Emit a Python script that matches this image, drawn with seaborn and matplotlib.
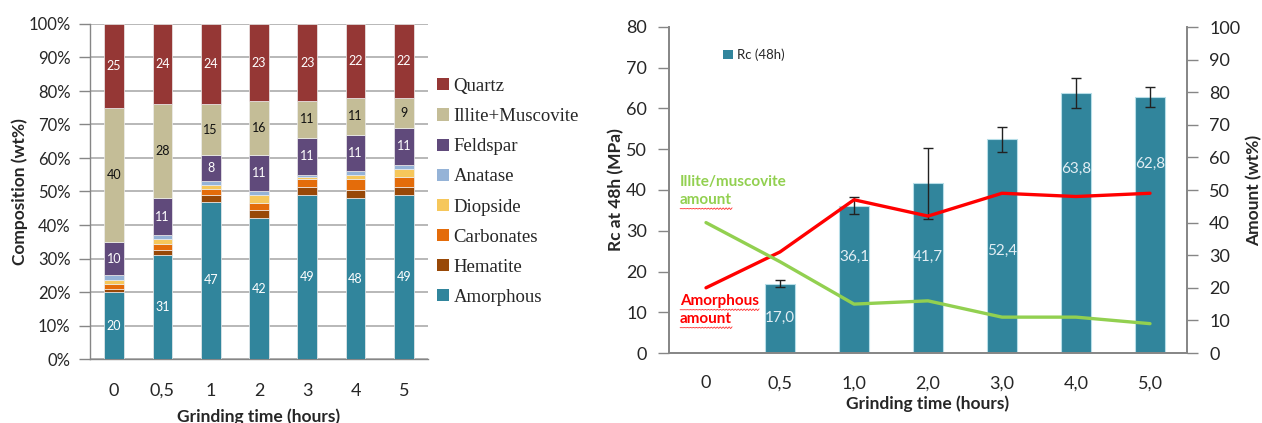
import numpy as np
import pandas as pd
import matplotlib
matplotlib.use("Agg")
import matplotlib.pyplot as plt
from matplotlib.patches import Patch
import seaborn as sns

# ---- data -------------------------------------------------------------
TIMES = ["0", "0,5", "1", "2", "3", "4", "5"]
TIMES_R = ["0", "0,5", "1,0", "2,0", "3,0", "4,0", "5,0"]

AMORPHOUS = [20, 31, 47, 42, 49, 48, 49]
HEMATITE = [1.0, 1.4, 2.0, 2.4, 2.4, 2.3, 2.3]
CARBONATES = [1.5, 1.9, 1.8, 2.3, 2.3, 3.4, 3.0]
DIOPSIDE = [1.2, 1.6, 1.2, 2.2, 0.6, 1.2, 2.3]
ANATASE = [1.3, 1.1, 1.0, 1.1, 0.7, 1.1, 1.4]
FELDSPAR = [10, 11, 8, 11, 11, 11, 11]
ILLITE = [40, 28, 15, 16, 11, 11, 9]
QUARTZ = [25, 24, 24, 23, 23, 22, 22]

RC_48H = [np.nan, 17.0, 36.1, 41.7, 52.4, 63.8, 62.8]
RC_ERR = [np.nan, 0.8, 2.1, 8.7, 3.1, 3.7, 2.4]

# ---- styling ----------------------------------------------------------
sns.set_theme(style="white")
plt.rcParams["font.family"] = ["Lato", "DejaVu Sans"]

C = {
    "Amorphous": "#31859C",
    "Hematite": "#984807",
    "Carbonates": "#E46C0A",
    "Diopside": "#F6C75B",
    "Anatase": "#95B3D7",
    "Feldspar": "#604A7B",
    "Illite+Muscovite": "#C4BD97",
    "Quartz": "#953735",
}
SPINE = "#868686"
W, H = 1262, 423

fig = plt.figure(figsize=(W / 100, H / 100), dpi=100)


def px_axes(x0, y0, x1, y1):
    return fig.add_axes([x0 / W, 1 - y1 / H, (x1 - x0) / W, (y1 - y0) / H])


# ---- left: stacked composition ---------------------------------------
ax = px_axes(90, 24, 428, 359)
layers = [
    ("Amorphous", AMORPHOUS, "white"),
    ("Hematite", HEMATITE, None),
    ("Carbonates", CARBONATES, None),
    ("Diopside", DIOPSIDE, None),
    ("Anatase", ANATASE, None),
    ("Feldspar", FELDSPAR, "white"),
    ("Illite+Muscovite", ILLITE, "#111111"),
    ("Quartz", QUARTZ, "white"),
]
bottom = np.zeros(len(TIMES))
for name, vals, lab_color in layers:
    vals = np.asarray(vals, dtype=float)
    df = pd.DataFrame({"time": TIMES, "value": vals})
    sns.barplot(data=df, x="time", y="value", order=TIMES, bottom=bottom,
                color=C[name], saturation=1, width=0.41, errorbar=None,
                edgecolor="#EDEDED", linewidth=0.5, ax=ax, zorder=3)
    if lab_color is not None:
        for i, v in enumerate(vals):
            ax.text(i, bottom[i] + v / 2, f"{v:.0f}", ha="center", va="center",
                    color=lab_color, fontsize=9, zorder=5)
    bottom = bottom + vals

ax.set_ylim(0, 100)
ax.set_xlim(-0.5, len(TIMES) - 0.5)
ax.set_yticks(np.arange(0, 101, 10))
ax.set_yticklabels([f"{v}%" for v in range(0, 101, 10)], fontsize=12)
ax.yaxis.grid(True, color="#ABABAB", lw=1.2)
ax.set_axisbelow(True)
ax.set_xticks(range(len(TIMES)))
ax.set_xticklabels(TIMES, fontsize=13)
ax.set_xticks(np.arange(-0.5, len(TIMES)), minor=True)
ax.tick_params(axis="x", which="major", length=0, pad=17)
ax.tick_params(axis="x", which="minor", length=7, color=SPINE, width=1, direction="out")
ax.tick_params(axis="y", length=8, color=SPINE, width=1, direction="out", pad=6, left=True)
for s in ("top", "right"):
    ax.spines[s].set_visible(False)
for s in ("left", "bottom"):
    ax.spines[s].set_color(SPINE)
    ax.spines[s].set_linewidth(1)
ax.set_xlabel("Grinding time (hours)", fontsize=12.5, fontweight="bold", labelpad=7)
ax.set_ylabel("Composition (wt%)", fontsize=12.5, fontweight="bold", labelpad=0)

legend_order = ["Quartz", "Illite+Muscovite", "Feldspar", "Anatase", "Diopside",
                "Carbonates", "Hematite", "Amorphous"]
handles = [Patch(facecolor=C[n], edgecolor="none") for n in legend_order]
fig.legend(handles, legend_order, loc="upper left", bbox_to_anchor=(437 / W, 1 - 78 / H),
           frameon=False, prop={"family": "Liberation Serif", "size": 13.5},
           handlelength=0.62, handleheight=0.62, handletextpad=0.25,
           labelspacing=0.7, borderaxespad=0, borderpad=0)

# ---- right: strength and amounts --------------------------------------
axr = px_axes(669, 27, 1187, 353)
dfr = pd.DataFrame({"time": TIMES_R, "rc": RC_48H})
sns.barplot(data=dfr, x="time", y="rc", order=TIMES_R, color=C["Amorphous"],
            saturation=1, width=0.4, errorbar=None, edgecolor="#B7DEE8",
            linewidth=0.8, ax=axr, zorder=2)
xs = np.arange(len(TIMES_R))
axr.errorbar(xs, RC_48H, yerr=RC_ERR, fmt="none", ecolor="#222222",
             elinewidth=1, capsize=3.5, capthick=1, zorder=4)

# value labels inside the bars
LABEL_Y = [None, 8.6, 23.5, 23.5, 25.0, 45.3, 46.5]
for i, (v, ly) in enumerate(zip(RC_48H, LABEL_Y)):
    if ly is None or np.isnan(v):
        continue
    axr.text(i, ly, f"{v:.1f}".replace(".", ","), ha="center", va="center",
             color="#E2EEF4", fontsize=11, zorder=5)

axr.set_ylim(0, 80)
axr.set_xlim(-0.5, len(TIMES_R) - 0.5)
axr.set_yticks(np.arange(0, 81, 10))
axr.tick_params(axis="y", labelsize=13, length=8, color=SPINE, width=1,
                direction="out", pad=8, left=True)
axr.set_xticks(xs)
axr.set_xticklabels(TIMES_R, fontsize=13)
axr.set_xticks(np.arange(-0.5, len(TIMES_R)), minor=True)
axr.tick_params(axis="x", which="major", length=0, pad=16)
axr.tick_params(axis="x", which="minor", length=7, color=SPINE, width=1, direction="out")
axr.spines["top"].set_visible(False)
for s in ("left", "bottom", "right"):
    axr.spines[s].set_color(SPINE)
axr.set_xlabel("Grinding time (hours)", fontsize=12.5, fontweight="bold", labelpad=3)
axr.set_ylabel("Rc at 48h (MPa)", fontsize=12.5, fontweight="bold", labelpad=1)

ax2 = axr.twinx()
sns.lineplot(x=xs, y=AMORPHOUS, color="#FF0000", lw=2.4, ax=ax2)
sns.lineplot(x=xs, y=ILLITE, color="#92D050", lw=2.4, ax=ax2)
ax2.set_ylim(0, 100)
ax2.set_yticks(np.arange(0, 101, 10))
ax2.tick_params(axis="y", labelsize=13, length=8, color=SPINE, width=1,
                direction="out", pad=8, right=True)
ax2.spines["top"].set_visible(False)
for s in ("left", "bottom", "right"):
    ax2.spines[s].set_color(SPINE)
ax2.set_ylabel("Amount (wt%)", fontsize=12.5, fontweight="bold", labelpad=4)
ax2.grid(False)

axr.legend([Patch(facecolor=C["Amorphous"], edgecolor="none")], ["Rc (48h)"],
           loc="upper left", bbox_to_anchor=(0.105, 0.935), frameon=False,
           fontsize=9.5, handlelength=0.7, handleheight=0.7, handletextpad=0.3,
           borderaxespad=0, borderpad=0)

notes = [
    ("Illite/muscovite", 42.0, "#92D050", False),
    ("amount", 37.5, "#92D050", True),
    ("Amorphous", 12.7, "#FF0000", True),
    ("amount", 8.3, "#FF0000", True),
]
note_texts = []
for txt, y, col, squiggle in notes:
    t = axr.text(-0.35, y, txt, color=col, fontsize=11, fontweight="bold",
                 va="center", ha="left", zorder=6)
    note_texts.append((t, squiggle))

# red proofing squiggles under the annotation words
fig.canvas.draw()
inv = fig.transFigure.inverted()
for t, squiggle in note_texts:
    if not squiggle:
        continue
    bb = t.get_window_extent()
    xx = np.linspace(bb.x0, bb.x1, int(bb.width / 1.5) + 2)
    yy = bb.y0 - 1.5 + 1.0 * np.sin((xx - bb.x0) * np.pi / 1.5)
    pts = inv.transform(np.column_stack([xx, yy]))
    fig.add_artist(plt.Line2D(pts[:, 0], pts[:, 1], color="#FF3030", lw=0.6,
                              transform=fig.transFigure, zorder=7))

fig.savefig("out.png", dpi=100)
